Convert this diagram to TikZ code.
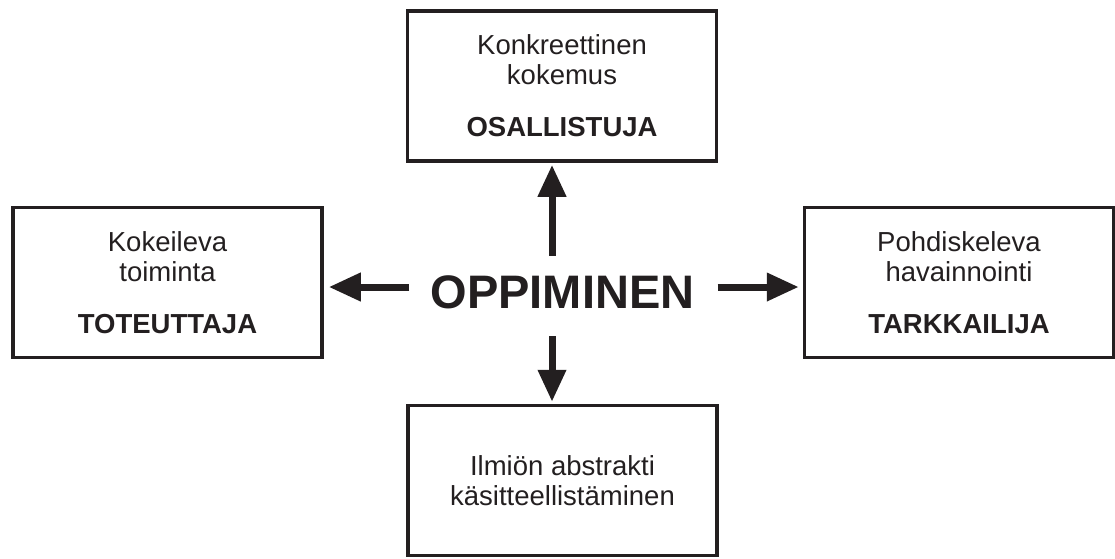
\documentclass[tikz,border=0pt]{standalone}
\usepackage{fontspec}
\setmainfont{Liberation Sans}
\usepackage{tikz}
\usetikzlibrary{arrows.meta, positioning}
\definecolor{Ink}{HTML}{231F20}

\begin{document}
\begin{tikzpicture}[x=1pt, y=-1pt,
    box/.style={draw=Ink, line width=3.5pt, minimum width=309pt, minimum height=150pt,
                inner sep=0pt, align=center, text=Ink, font=\fontsize{27.5}{30}\selectfont},
    arr/.style={draw=Ink, line width=7pt, -{Triangle[length=32pt, width=27pt]}}]
  \useasboundingbox (0,0) rectangle (1115,558);
  % centre word
  \node[inner sep=0pt, text=Ink, font=\fontsize{47}{47}\bfseries\selectfont] (oppi) at (562.5,292.5) {OPPIMINEN};
  % the four boxes
  \node[box] (konk) at (562,86) {Konkreettinen\\kokemus\\[22pt]\textbf{OSALLISTUJA}};
  \node[box] (kokei) at (167.5,282.5) {Kokeileva\\toiminta\\[22pt]\textbf{TOTEUTTAJA}};
  \node[box] (pohd) at (959,282.5) {Pohdiskeleva\\havainnointi\\[22pt]\textbf{TARKKAILIJA}};
  \node[box] (ilmi) at (562.5,480.5) {Ilmiön abstrakti\\käsitteellistäminen};
  % arrows
  \coordinate (vcol) at (552,0);
  \coordinate (hrow) at (0,287);
  \draw[arr, shorten <=20pt, shorten >=2pt] (oppi.north -| vcol) -- (konk.south -| vcol);
  \draw[arr, shorten <=21pt, shorten >=5pt] (oppi.west |- hrow) -- (kokei.east |- hrow);
  \draw[arr, shorten <=23pt, shorten >=4pt] (oppi.east |- hrow) -- (pohd.west |- hrow);
  \draw[arr, shorten <=27pt, shorten >=2pt] (oppi.south -| vcol) -- (ilmi.north -| vcol);
\end{tikzpicture}
\end{document}
